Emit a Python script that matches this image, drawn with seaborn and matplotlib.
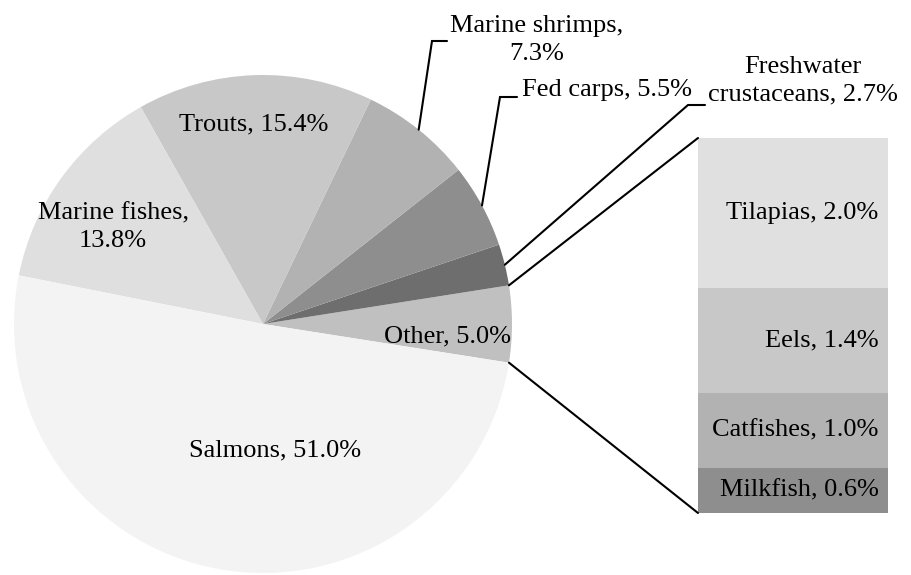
import numpy as np
import matplotlib
matplotlib.use("Agg")
import matplotlib.pyplot as plt
from matplotlib.patches import ConnectionPatch
import seaborn as sns

# Aquaculture production shares (percent)
pie_labels = ["Other", "Freshwater crustaceans", "Fed carps", "Marine shrimps",
              "Trouts", "Marine fishes", "Salmons"]
pie_values = [5.0, 2.7, 5.5, 7.3, 15.4, 13.8, 51.0]
pie_colors = ["#c0c0c0", "#6e6e6e", "#8e8e8e", "#b2b2b2",
              "#c8c8c8", "#dfdfdf", "#f3f3f3"]

# Breakdown of "Other" (bottom to top)
bar_labels = ["Milkfish", "Catfishes", "Eels", "Tilapias"]
bar_values = [0.6, 1.0, 1.4, 2.0]
bar_colors = ["#8e8e8e", "#b2b2b2", "#c8c8c8", "#e0e0e0"]

sns.set_theme(style="white")
plt.rcParams["font.family"] = ["Liberation Serif", "DejaVu Serif"]
plt.rcParams["text.color"] = "black"
FS = 19

W, H = 911, 575
fig = plt.figure(figsize=(W / 100, H / 100), dpi=100)

# Pie axes: centre (263, 324) px, radius 249 px
cx, cy, R = 263, 324, 249
ax = fig.add_axes([(cx - R) / W, (H - cy - R) / H, 2 * R / W, 2 * R / H])
other_span = pie_values[0] / sum(pie_values) * 360
wedges, _ = ax.pie(pie_values, colors=pie_colors, startangle=-other_span / 2,
                   counterclock=True, radius=1,
                   wedgeprops=dict(linewidth=0))
ax.set_xlim(-1, 1)
ax.set_ylim(-1, 1)
ax.set_aspect("equal")
ax.axis("off")


def px(x, y):
    """Pixel position -> pie data coordinates."""
    return (x - cx) / R, (cy - y) / R


def lab(i):
    return f"{pie_labels[i]}, {pie_values[i]:.1f}%"


# Labels inside the pie
ax.text(*px(275, 450), lab(6), ha="center", va="center", fontsize=FS)
ax.text(*px(113, 227), f"{pie_labels[5]},\n{pie_values[5]:.1f}%",
        ha="center", va="center", fontsize=FS, linespacing=1.3)
ax.text(*px(254, 124), lab(4), ha="center", va="center", fontsize=FS)
ax.text(*px(448, 336), lab(0), ha="center", va="center", fontsize=FS)

# Outside labels with elbow leader lines
outside = {
    3: dict(elbow=(432, 41), end=(447, 41), text=(537, 40), ha="center",
            txt=f"{pie_labels[3]},\n{pie_values[3]:.1f}%"),
    2: dict(elbow=(500, 97), end=(517, 97), text=(522, 90), ha="left",
            txt=lab(2)),
    1: dict(elbow=(688, 105), end=(705, 105), text=(803, 81), ha="center",
            txt="Freshwater\ncrustaceans, " + f"{pie_values[1]:.1f}%"),
}
for i, o in outside.items():
    w = wedges[i]
    mid = np.deg2rad((w.theta1 + w.theta2) / 2)
    sx, sy = np.cos(mid), np.sin(mid)
    ex, ey = px(*o["elbow"])
    fx, fy = px(*o["end"])
    ax.plot([sx, ex, fx], [sy, ey, fy], color="black", lw=1.5,
            clip_on=False, solid_joinstyle="miter")
    ax.text(*px(*o["text"]), o["txt"], ha=o["ha"], va="center",
            fontsize=FS, linespacing=1.3)

# Stacked bar for "Other"
bx0, bx1, by0, by1 = 698, 888, 138, 513
bax = fig.add_axes([bx0 / W, (H - by1) / H, (bx1 - bx0) / W, (by1 - by0) / H])
bottom = 0.0
for name, v, c in zip(bar_labels, bar_values, bar_colors):
    bax.bar(0, v, width=1.0, bottom=bottom, color=c, linewidth=0)
    bax.text(0.45, bottom + v / 2, f"{name}, {v:.1f}%", ha="right",
             va="center", fontsize=FS)
    bottom += v
bax.set_xlim(-0.5, 0.5)
bax.set_ylim(0, sum(bar_values))
bax.axis("off")

# Connector lines from the "Other" wedge to the bar
ow = wedges[0]
for ang, yb in [(ow.theta2, sum(bar_values)), (ow.theta1, 0)]:
    t = np.deg2rad(ang)
    con = ConnectionPatch(xyA=(np.cos(t), np.sin(t)), coordsA=ax.transData,
                          xyB=(-0.5, yb), coordsB=bax.transData,
                          color="black", lw=1.5)
    fig.add_artist(con)

fig.savefig("out.png", dpi=100)
